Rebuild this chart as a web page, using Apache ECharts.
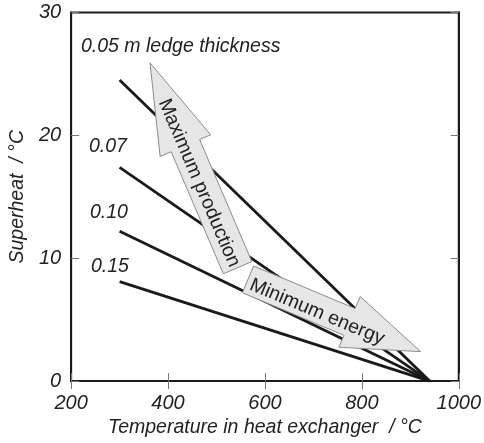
<!DOCTYPE html>
<html>
<head>
<meta charset="utf-8">
<script src="https://cdn.jsdelivr.net/npm/echarts@6/dist/echarts.min.js"></script>
<style>
html,body{margin:0;padding:0;background:#fff;}
#c{width:484px;height:443px;}
</style>
</head>
<body>
<div id="c"></div>
<script>
// Data
var thickness = ['0.05', '0.07', '0.10', '0.15'];
var xStart = 300;
var xEnd = 940;
var superheatStart = [24.5, 17.4, 12.2, 8.1];
var superheatEnd = [0, 0, 0, 0];
var xTicks = [200, 400, 600, 800, 1000];
var yTicks = [0, 10, 20, 30];

var FONT = 'Liberation Sans, Arial, sans-serif';
var TXT = '#222';

var chart = echarts.init(document.getElementById('c'), null, {renderer: 'canvas'});

var series = thickness.map(function (t, i) {
  return {
    type: 'line',
    name: t,
    data: [[xStart, superheatStart[i]], [xEnd, superheatEnd[i]]],
    symbol: 'none',
    lineStyle: {color: '#1a1a1a', width: 2.8},
    z: 2,
    silent: true
  };
});

var axisCommon = {
  type: 'value',
  axisLine: {show: true, lineStyle: {color: '#1a1a1a', width: 2}},
  axisTick: {show: true, inside: true, length: 8, lineStyle: {color: '#777', width: 1}},
  splitLine: {show: false}
};
function plain(v) { return String(v); }

chart.setOption({
  animation: false,
  grid: {left: 69, right: 22, top: 12.5, bottom: 60, show: true, borderColor: '#1a1a1a', borderWidth: 2, backgroundColor: 'transparent'},
  xAxis: [
    Object.assign({}, axisCommon, {
      min: xTicks[0], max: xTicks[xTicks.length - 1], interval: 200, position: 'bottom',
      axisLabel: {show: true, margin: 12, formatter: plain, fontFamily: FONT, fontStyle: 'italic', fontSize: 20, color: TXT},
      name: 'Temperature in heat exchanger  / \u00B0C', nameLocation: 'middle', nameGap: 25,
      nameTextStyle: {fontFamily: FONT, fontStyle: 'italic', fontSize: 19.5, color: TXT}
    }),
    Object.assign({}, axisCommon, {
      min: xTicks[0], max: xTicks[xTicks.length - 1], interval: 200, position: 'top',
      axisLabel: {show: false}
    })
  ],
  yAxis: [
    Object.assign({}, axisCommon, {
      min: yTicks[0], max: yTicks[yTicks.length - 1], interval: 10, position: 'left',
      axisLabel: {show: true, margin: 10, formatter: plain, fontFamily: FONT, fontStyle: 'italic', fontSize: 20, color: TXT},
      name: 'Superheat  / \u00B0C', nameLocation: 'middle', nameGap: 41,
      nameTextStyle: {fontFamily: FONT, fontStyle: 'italic', fontSize: 19.5, color: TXT}
    }),
    Object.assign({}, axisCommon, {
      min: yTicks[0], max: yTicks[yTicks.length - 1], interval: 10, position: 'right',
      axisLabel: {show: false}
    })
  ],
  series: series
});

// Block arrows (annotations), built in pixel space from data-anchored endpoints
function arrowPoints(tail, tip, w, hw, hl) {
  var dx = tip[0] - tail[0], dy = tip[1] - tail[1];
  var L = Math.sqrt(dx * dx + dy * dy);
  var ux = dx / L, uy = dy / L;
  var nx = -uy, ny = ux;
  var bx = tip[0] - ux * hl, by = tip[1] - uy * hl;
  return [
    [tail[0] + nx * w / 2, tail[1] + ny * w / 2],
    [bx + nx * w / 2, by + ny * w / 2],
    [bx + nx * hw / 2, by + ny * hw / 2],
    [tip[0], tip[1]],
    [bx - nx * hw / 2, by - ny * hw / 2],
    [bx - nx * w / 2, by - ny * w / 2],
    [tail[0] - nx * w / 2, tail[1] - ny * w / 2]
  ];
}
function px(pt) { return chart.convertToPixel({xAxisIndex: 0, yAxisIndex: 0}, pt); }

var maxTail = px([543.6, 9.23]), maxTip = px([362.8, 25.9]);
var minTail = px([565, 8.28]), minTip = px([921.2, 2.4]);

function angleOf(a, b) { return Math.atan2(b[1] - a[1], b[0] - a[0]); }
var angMax = angleOf(maxTip, maxTail); // reading direction tip -> tail
var angMin = angleOf(minTail, minTip);

var arrowStyle = {fill: '#e6e6e6', stroke: '#8a8a8a', lineWidth: 1};

chart.setOption({
  graphic: [
    {type: 'polygon', shape: {points: arrowPoints(maxTail, maxTip, 31, 55, 90)}, style: arrowStyle, z: 10},
    {type: 'polygon', shape: {points: arrowPoints(minTail, minTip, 29, 55, 77)}, style: arrowStyle, z: 10},
    {type: 'text', x: 199, y: 183, rotation: -angMax, z: 11,
      style: {text: 'Maximum production', font: '19.5px ' + FONT, fill: TXT, align: 'center', verticalAlign: 'middle'}},
    {type: 'text', x: 317, y: 312, rotation: -angMin, z: 11,
      style: {text: 'Minimum energy', font: '19.5px ' + FONT, fill: TXT, align: 'center', verticalAlign: 'middle'}},
    {type: 'text', x: 81, y: 47, z: 11, style: {text: '0.05 m ledge thickness', font: 'italic 19.5px ' + FONT, fill: TXT, align: 'left', verticalAlign: 'middle'}},
    {type: 'text', x: 89, y: 147, z: 11, style: {text: thickness[1], font: 'italic 19.5px ' + FONT, fill: TXT, align: 'left', verticalAlign: 'middle'}},
    {type: 'text', x: 90, y: 213, z: 11, style: {text: thickness[2], font: 'italic 19.5px ' + FONT, fill: TXT, align: 'left', verticalAlign: 'middle'}},
    {type: 'text', x: 91, y: 267, z: 11, style: {text: thickness[3], font: 'italic 19.5px ' + FONT, fill: TXT, align: 'left', verticalAlign: 'middle'}}
  ]
});
</script>
</body>
</html>
